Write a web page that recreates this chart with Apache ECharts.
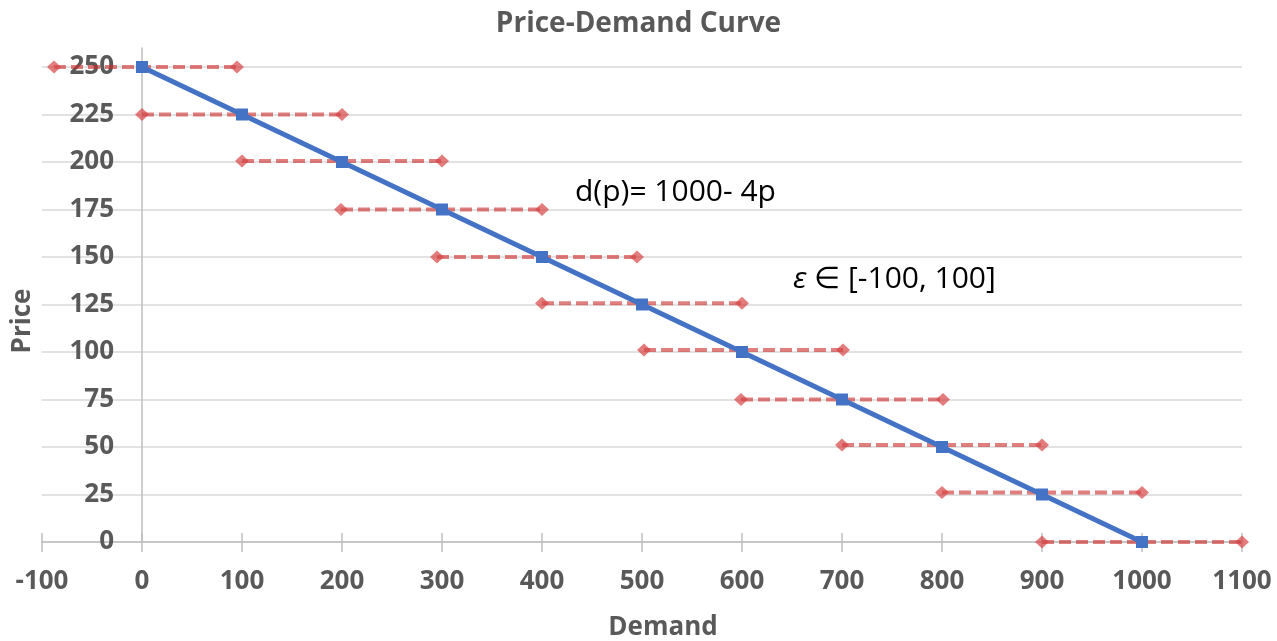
<!DOCTYPE html>
<html>
<head>
<meta charset="utf-8">
<title>Price-Demand Curve</title>
<script src="https://cdn.jsdelivr.net/npm/echarts@6/dist/echarts.min.js"></script>
<style>
  html, body { margin: 0; padding: 0; background: #fff; }
  #chart { width: 1277px; height: 641px; }
</style>
</head>
<body>
<div id="chart"></div>
<script>
// Demand curve d(p) = 1000 - 4p sampled at each price step
const curvePrices = [250, 225, 200, 175, 150, 125, 100, 75, 50, 25, 0];
const curveDemand = [0, 100, 200, 300, 400, 500, 600, 700, 800, 900, 1000];

// Noise band for each price level: demand range [low, high]
const bandPrices = [250, 225, 200.5, 175, 150, 125.7, 101, 75, 51, 26, 0];
const bandLow = [-88, 0, 100, 199, 295, 400, 502, 599, 700, 800, 900];
const bandHigh = [95, 200, 300, 400, 495, 600, 701, 801, 900, 1000, 1100];

// Axis ticks
const priceTicks = [0, 25, 50, 75, 100, 125, 150, 175, 200, 225, 250];
const demandMin = -100, demandMax = 1100, demandStep = 100;

const GRAY = '#595959';
const AXIS_GRAY = '#BFBFBF';
const FONT = '"Open Sans", "Liberation Sans", sans-serif';

const chart = echarts.init(document.getElementById('chart'), null, { renderer: 'canvas' });

const bandSeries = bandPrices.map((p, i) => ({
  type: 'line',
  data: [[bandLow[i], p], [bandHigh[i], p]],
  symbol: 'diamond',
  symbolSize: [14, 13],
  showSymbol: true,
  lineStyle: { color: 'rgba(205, 40, 40, 0.6)', width: 4, type: [12, 5] },
  itemStyle: { color: 'rgba(215, 70, 70, 0.7)' },
  silent: true,
  z: 2
}));

const curveSeries = {
  type: 'line',
  data: curveDemand.map((d, i) => [d, curvePrices[i]]),
  symbol: 'rect',
  symbolSize: 12,
  lineStyle: { color: '#4472C4', width: 5 },
  itemStyle: { color: '#4472C4' },
  silent: true,
  z: 3
};

const plainNumber = v => String(v);

const option = {
  animation: false,
  backgroundColor: '#fff',
  title: {
    text: 'Price-Demand Curve',
    left: 'center',
    top: 5,
    textStyle: { fontFamily: FONT, fontSize: 28, fontWeight: 'bold', color: GRAY }
  },
  grid: { left: 42, right: 35, top: 48, bottom: 99, containLabel: false, outerBoundsMode: 'none' },
  xAxis: [
    {
      type: 'value',
      min: demandMin,
      max: demandMax,
      interval: demandStep,
      axisLine: { show: true, onZero: true, lineStyle: { color: AXIS_GRAY, width: 1.5 } },
      axisTick: { show: true, inside: false, length: 10, lineStyle: { color: AXIS_GRAY, width: 1.5 } },
      axisLabel: { margin: 27, formatter: plainNumber, fontFamily: FONT, fontSize: 26, fontWeight: 'bold', color: GRAY },
      splitLine: { show: false }
    },
    {
      // inner half of the crossing tick marks
      type: 'value',
      position: 'bottom',
      min: demandMin,
      max: demandMax,
      interval: demandStep,
      axisLine: { show: false },
      axisTick: { show: true, inside: true, length: 9, lineStyle: { color: AXIS_GRAY, width: 1.5 } },
      axisLabel: { show: false },
      splitLine: { show: false }
    }
  ],
  yAxis: {
    type: 'value',
    min: 0,
    max: 260,
    // the price axis sits at demand = 0, one x-step inside the plot
    offset: -100,
    axisLine: { show: true, onZero: false, lineStyle: { color: AXIS_GRAY, width: 1.5 } },
    axisTick: { show: false, customValues: priceTicks },
    axisLabel: { customValues: priceTicks, margin: 28, formatter: plainNumber, fontFamily: FONT, fontSize: 26, fontWeight: 'bold', color: GRAY },
    splitLine: { show: true, lineStyle: { color: '#D9D9D9', width: 1.5 } }
  },
  graphic: [
    {
      type: 'text',
      x: 23, y: 321,
      rotation: Math.PI / 2,
      style: { text: 'Price', font: 'bold 26px ' + FONT, fill: GRAY, align: 'center', verticalAlign: 'middle' }
    },
    {
      type: 'text',
      x: 663, y: 628,
      style: { text: 'Demand', font: 'bold 26px ' + FONT, fill: GRAY, align: 'center', verticalAlign: 'middle' }
    },
    {
      type: 'text',
      x: 575, y: 192,
      style: { text: 'd(p)= 1000- 4p', font: '30px ' + FONT, fill: '#000', align: 'left', verticalAlign: 'middle' }
    },
    {
      type: 'text',
      x: 793, y: 279,
      style: {
        text: '{e|ε} ∈ [-100, 100]',
        font: '30px ' + FONT,
        fill: '#000',
        align: 'left',
        verticalAlign: 'middle',
        rich: { e: { fontStyle: 'italic', fontFamily: FONT, fontSize: 30, fill: '#000' } }
      }
    }
  ],
  series: [...bandSeries, curveSeries]
};

chart.setOption(option);
</script>
</body>
</html>
